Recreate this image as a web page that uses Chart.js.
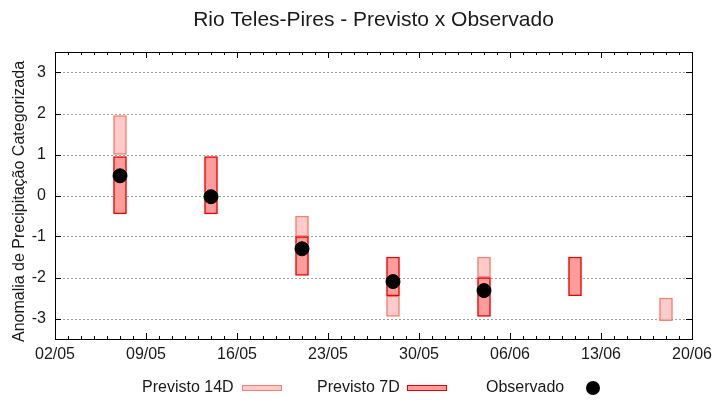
<!DOCTYPE html>
<html>
<head>
<meta charset="utf-8">
<script src="https://cdn.jsdelivr.net/npm/chart.js@4/dist/chart.umd.min.js"></script>
<style>
  html, body { margin: 0; padding: 0; background: #fff; }
  #wrap { width: 720px; height: 400px; }
</style>
</head>
<body>
<div id="wrap"><canvas id="chart" width="720" height="400"></canvas></div>
<script>
const startDate = '02/05';
const xTickLabels = ['02/05','09/05','16/05','23/05','30/05','06/06','13/06','20/06'];
const yTicks = [-3, -2, -1, 0, 1, 2, 3];

// previsto 14 dias (faixa lo..hi)
const dates14 = ['07/05', '21/05', '28/05', '04/06', '18/06'];
const low14   = [1.0, -1.0, -2.95, -2.0, -3.05];
const high14  = [1.95, -0.5, -2.45, -1.5, -2.5];

// previsto 7 dias
const dates7 = ['07/05', '14/05', '21/05', '28/05', '04/06', '11/06'];
const low7   = [-0.45, -0.45, -1.95, -2.45, -2.95, -2.45];
const high7  = [0.95, 0.95, -1.0, -1.5, -2.0, -1.5];

// observado
const datesObs = ['07/05', '14/05', '21/05', '28/05', '04/06'];
const valuesObs = [0.48, -0.03, -1.3, -2.1, -2.32];

const legendLabels = ['Previsto 14D', 'Previsto 7D', 'Observado'];
const titleText = 'Rio Teles-Pires - Previsto x Observado';
const yTitle = 'Anomalia de Precipitação Categorizada';

function toDate(s) {
    const [d, m] = s.split('/').map(Number);
    return Date.UTC(2021, m - 1, d);
}
function toDay(s) {
    return Math.round((toDate(s) - toDate(startDate)) / 86400000);
}
const xTicks = xTickLabels.map(toDay);

const FONT = '"Liberation Sans", Arial, sans-serif';
const c14 = { fill: '#ffcaca', border: '#f4806e' };
const c7  = { fill: '#ff9c9c', border: '#ee0000' };

const decor = {
    id: 'decor',
    beforeDatasetsDraw(chart) {
        const {ctx, chartArea: a, scales: {x, y}} = chart;
        ctx.save();
        ctx.strokeStyle = '#a0a0a0';
        ctx.lineWidth = 1;
        ctx.setLineDash([2, 2]);
        yTicks.forEach(v => {
            const py = Math.round(y.getPixelForValue(v)) + 0.5;
            ctx.beginPath();
            ctx.moveTo(a.left, py);
            ctx.lineTo(a.right, py);
            ctx.stroke();
        });
        ctx.restore();
    },
    afterDraw(chart) {
        const {ctx, chartArea: a, scales: {x, y}} = chart;
        ctx.save();
        ctx.strokeStyle = '#000';
        ctx.lineWidth = 1;
        ctx.setLineDash([]);
        // ticks
        ctx.beginPath();
        yTicks.forEach(v => {
            const py = Math.round(y.getPixelForValue(v)) + 0.5;
            ctx.moveTo(a.left, py); ctx.lineTo(a.left + 6, py);
            ctx.moveTo(a.right, py); ctx.lineTo(a.right - 6, py);
        });
        for (let d = x.min; d <= x.max; d++) {
            const px = Math.round(x.getPixelForValue(d)) + 0.5;
            const len = xTicks.includes(d) ? 6 : 3;
            ctx.moveTo(px, a.bottom); ctx.lineTo(px, a.bottom - len);
            ctx.moveTo(px, a.top); ctx.lineTo(px, a.top + len);
        }
        ctx.stroke();
        ctx.strokeRect(Math.round(a.left) + 0.5, Math.round(a.top) + 0.5,
            Math.round(a.right - a.left), Math.round(a.bottom - a.top));

        // title
        ctx.fillStyle = '#1a1a1a';
        ctx.textAlign = 'center';
        ctx.textBaseline = 'middle';
        ctx.font = '21px ' + FONT;
        ctx.fillText(titleText, (a.left + a.right) / 2, 20);

        // y title
        ctx.font = '16px ' + FONT;
        ctx.save();
        ctx.translate(20, (a.top + a.bottom) / 2 + 6);
        ctx.rotate(-Math.PI / 2);
        ctx.fillText(yTitle, 0, 0);
        ctx.restore();

        // legend
        const ly = 388;
        ctx.textAlign = 'left';
        ctx.fillText(legendLabels[0], 142, ly);
        ctx.fillStyle = c14.fill; ctx.strokeStyle = c14.border;
        ctx.fillRect(242, 385, 40, 6); ctx.strokeRect(242.5, 385.5, 39, 5);
        ctx.fillStyle = '#1a1a1a';
        ctx.fillText(legendLabels[1], 317, ly);
        ctx.fillStyle = c7.fill; ctx.strokeStyle = c7.border;
        ctx.fillRect(407, 385, 40, 6); ctx.strokeRect(407.5, 385.5, 39, 5);
        ctx.fillStyle = '#1a1a1a';
        ctx.fillText(legendLabels[2], 486, ly);
        ctx.fillStyle = '#000';
        ctx.beginPath();
        ctx.arc(593, 388, 7, 0, Math.PI * 2);
        ctx.fill();
        ctx.restore();
    }
};

new Chart(document.getElementById('chart'), {
    data: {
        datasets: [
            {
                type: 'scatter',
                label: legendLabels[2],
                data: datesObs.map((d, i) => ({x: toDay(d), y: valuesObs[i]})),
                backgroundColor: '#000',
                borderColor: '#000',
                pointRadius: 7,
                order: 0
            },
            {
                type: 'bar',
                label: legendLabels[1],
                data: dates7.map((d, i) => ({x: toDay(d), y: [low7[i], high7[i]]})),
                backgroundColor: c7.fill,
                borderColor: c7.border,
                borderWidth: 1.5,
                borderSkipped: false,
                barThickness: 13,
                grouped: false,
                order: 1
            },
            {
                type: 'bar',
                label: legendLabels[0],
                data: dates14.map((d, i) => ({x: toDay(d), y: [low14[i], high14[i]]})),
                backgroundColor: c14.fill,
                borderColor: c14.border,
                borderWidth: 1.5,
                borderSkipped: false,
                barThickness: 13,
                grouped: false,
                order: 2
            }
        ]
    },
    options: {
        responsive: false,
        animation: false,
        layout: { padding: { left: 0, right: 28, top: 52, bottom: 0 } },
        plugins: {
            legend: { display: false },
            title: { display: false },
            tooltip: { enabled: false }
        },
        scales: {
            x: {
                type: 'linear',
                offset: false,
                min: 0,
                max: 49,
                afterBuildTicks: s => { s.ticks = xTicks.map(v => ({value: v})); },
                afterFit: s => { s.height = 61; },
                grid: { display: false, drawTicks: false, offset: false },
                border: { display: false },
                ticks: {
                    padding: 6,
                    color: '#1a1a1a',
                    font: { family: FONT, size: 16 },
                    maxRotation: 0,
                    callback: v => xTickLabels[xTicks.indexOf(v)] || ''
                }
            },
            y: {
                type: 'linear',
                min: -3.5,
                max: 3.5,
                afterBuildTicks: s => { s.ticks = yTicks.map(v => ({value: v})); },
                afterFit: s => { s.width = 55; },
                grid: { display: false, drawTicks: false },
                border: { display: false },
                ticks: {
                    padding: 9,
                    color: '#1a1a1a',
                    font: { family: FONT, size: 16 },
                    callback: v => String(v)
                }
            }
        }
    },
    plugins: [decor]
});
</script>
</body>
</html>
